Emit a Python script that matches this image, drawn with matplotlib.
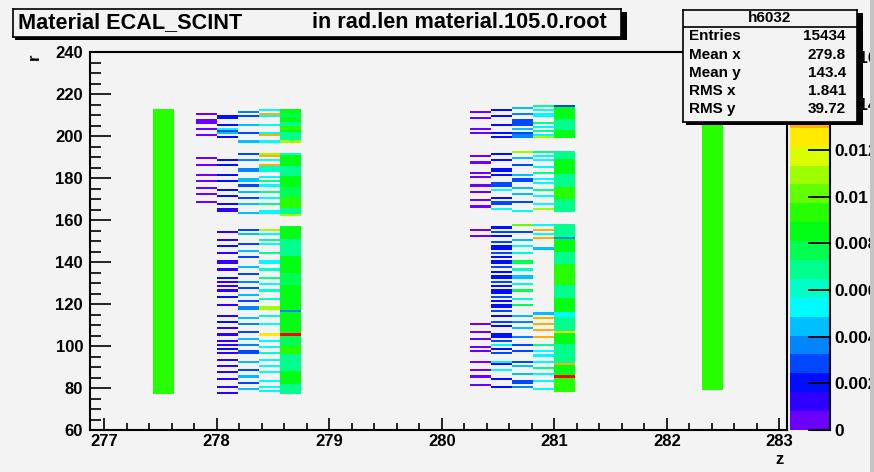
import colorsys
import numpy as np
import matplotlib
matplotlib.use("Agg")
import matplotlib.pyplot as plt
from matplotlib.colors import ListedColormap, BoundaryNorm
from matplotlib.patches import Rectangle
from matplotlib.ticker import MultipleLocator, FuncFormatter

plt.rcParams['font.family'] = ['Liberation Sans', 'DejaVu Sans']
plt.rcParams['font.weight'] = 'bold'

W, H_PX = 874, 472
BG = '#f3f3f3'

# histogram binning (z in bins of 0.1875, r in bins of 1)
z_edges = 276.875 + 0.1875 * np.arange(34)
r_edges = np.arange(60, 241)
z_max_val = 0.0162
n_levels = 20
step = z_max_val / n_levels

# data: columns as (r bin, colour level) stripes or (r_lo, r_hi, level) runs
left_bar = [(77, 212, 11)]
right_bar = [(79, 212, 11)]

ecal1_a = [(210, 0), (207, 0), (206, 0), (203, 0), (200, 0),
           (189, 0), (186, 0), (181, 0), (178, 0), (175, 0), (172, 0), (168, 0)]
ecal1_b = [(209, 2), (208, 2), (205, 2), (203, 6), (202, 3), (201, 5), (199, 2),
           (188, 2), (186, 2), (181, 2), (178, 2), (174, 2), (171, 2), (167, 2), (165, 1), (164, 1),
           (154, 1), (150, 1), (147, 2), (144, 1), (140, 1), (139, 1), (136, 1), (132, 2),
           (130, 1), (128, 1), (126, 1), (123, 2), (119, 1), (114, 1), (111, 2), (108, 1),
           (105, 1), (102, 1), (100, 1), (98, 2), (96, 1), (93, 1), (90, 1), (87, 1),
           (84, 1), (80, 1), (77, 1)]
ecal1_c = [(211, 4), (209, 3), (205, 5), (201, 3), (197, 5),
           (191, 3), (188, 4), (184, 4), (183, 4), (179, 5), (178, 5), (176, 3), (173, 5),
           (170, 3), (167, 5), (163, 5),
           (155, 3), (153, 5), (148, 3), (145, 5), (142, 3), (137, 5), (134, 3), (130, 4),
           (127, 3), (124, 5), (121, 3), (118, 4), (117, 4), (113, 5), (110, 4), (106, 3),
           (103, 5), (100, 4), (97, 3), (96, 3), (92, 5), (88, 3), (85, 5), (82, 3), (79, 5)]
ecal1_d = [(212, 6), (210, 16), (209, 6), (205, 6), (201, 6), (200, 16), (197, 6),
           (191, 13), (190, 16), (188, 6), (186, 16), (185, 7), (184, 7), (183, 7), (180, 6),
           (178, 8), (176, 6), (173, 8), (170, 6), (167, 8), (164, 6), (163, 6),
           (155, 13), (153, 6), (150, 8), (148, 6), (144, 8), (140, 6), (139, 6), (136, 7),
           (132, 8), (129, 6), (126, 7), (122, 7), (118, 13), (117, 13), (114, 7), (110, 6),
           (105, 15), (102, 6), (99, 6), (96, 7), (93, 6), (90, 6), (87, 6), (83, 6),
           (80, 6), (78, 6)]
ecal1_e = [(212, 212, 10), (211, 211, 10), (209, 210, 9), (207, 208, 10), (205, 206, 8),
           (203, 204, 11), (202, 202, 10), (198, 201, 8), (197, 197, 13),
           (191, 191, 7), (186, 190, 10), (181, 185, 8), (176, 180, 10), (171, 175, 9),
           (166, 170, 11), (163, 165, 8), (162, 162, 13),
           (151, 156, 10), (143, 150, 8), (135, 142, 10), (129, 134, 9), (117, 128, 10),
           (116, 116, 4), (106, 115, 10), (105, 105, 19), (100, 104, 9), (96, 99, 11),
           (88, 95, 8), (82, 87, 10), (77, 81, 8)]

ecal2_a = [(211, 0), (208, 0), (203, 0), (201, 0),
           (190, 0), (187, 0), (182, 0), (180, 0), (176, 0), (173, 0), (169, 0), (166, 0),
           (155, 0), (152, 0), (110, 0), (106, 0), (103, 0), (99, 0), (97, 0), (92, 0),
           (88, 0), (85, 0), (81, 0)]
ecal2_b = [(212, 2), (209, 2), (205, 2), (201, 2), (199, 2),
           (191, 2), (188, 2), (184, 2), (183, 2), (181, 2), (177, 3), (176, 3), (174, 6),
           (170, 2), (168, 3), (167, 3), (165, 6),
           (156, 2), (154, 3), (152, 2), (149, 3), (147, 2), (146, 2), (144, 3), (142, 2),
           (140, 2), (139, 2), (137, 3), (135, 2), (133, 2), (132, 2), (130, 3), (128, 2),
           (126, 2), (125, 2), (123, 3), (121, 2), (119, 2), (118, 2), (116, 3), (114, 2),
           (111, 3), (109, 2), (105, 2), (104, 2), (102, 3), (100, 6), (98, 2), (96, 3),
           (92, 6), (91, 2), (88, 6), (84, 2), (80, 2)]
ecal2_c = [(213, 5), (210, 4), (207, 3), (206, 3), (205, 3), (203, 5), (201, 3), (200, 4), (199, 4),
           (192, 13), (189, 5), (186, 3), (181, 5), (179, 3), (178, 3), (175, 5), (172, 5),
           (168, 3), (164, 6),
           (157, 12), (154, 3), (150, 5), (147, 6), (144, 7), (140, 9), (139, 9), (136, 7),
           (133, 5), (132, 5), (129, 7), (126, 9), (122, 7), (119, 9), (114, 5), (111, 4),
           (108, 5), (104, 4), (100, 3), (97, 3), (92, 3), (90, 5), (86, 5), (83, 3),
           (82, 3), (80, 4)]
ecal2_d = [(214, 8), (212, 6), (210, 6), (209, 6), (206, 8), (204, 6), (202, 8), (200, 6), (199, 13),
           (192, 8), (190, 6), (188, 6), (185, 6), (182, 8), (179, 6), (177, 6), (174, 8),
           (171, 6), (167, 6), (165, 13),
           (157, 6), (155, 16), (153, 6), (151, 16), (146, 5),
           (115, 5), (113, 16), (110, 16), (107, 16), (104, 16), (100, 8), (97, 6), (95, 6),
           (92, 6), (89, 8), (86, 6), (83, 6), (79, 6)]
ecal2_e = [(214, 214, 3), (208, 213, 10), (203, 207, 8), (199, 202, 10),
           (189, 192, 8), (182, 188, 10), (176, 181, 8), (170, 175, 11), (164, 169, 8),
           (152, 157, 8), (151, 151, 4), (145, 150, 10), (139, 144, 8), (129, 138, 11),
           (123, 128, 8), (116, 122, 10), (114, 115, 6), (107, 113, 8), (106, 106, 15),
           (101, 105, 10), (92, 100, 8), (91, 91, 16), (86, 90, 10), (85, 85, 19), (78, 84, 11)]

column_z = [277.4375, 277.8125, 278.0, 278.1875, 278.375, 278.5625,
            280.25, 280.4375, 280.625, 280.8125, 281.0, 282.3125]
column_data = [left_bar, ecal1_a, ecal1_b, ecal1_c, ecal1_d, ecal1_e,
               ecal2_a, ecal2_b, ecal2_c, ecal2_d, ecal2_e, right_bar]

stats_labels = ['Entries', 'Mean x', 'Mean y', 'RMS x', 'RMS y']
stats_values = ['15434', '279.8', '143.4', '1.841', '39.72']

# fill the 2D histogram
hist = np.zeros((len(r_edges) - 1, len(z_edges) - 1))
for z_lo, entries in zip(column_z, column_data):
    iz = int(round((z_lo - z_edges[0]) / 0.1875))
    for item in entries:
        if len(item) == 2:
            hist[item[0] - 60, iz] = (item[1] + 0.5) * step
        else:
            hist[item[0] - 60:item[1] - 59, iz] = (item[2] + 0.5) * step

# ROOT-like pretty palette, violet -> red
palette = [colorsys.hsv_to_rgb(max(265 - 14 * i, 0) / 360.0, 1, 1) for i in range(n_levels)]
cmap = ListedColormap(palette)
norm = BoundaryNorm(np.linspace(0, z_max_val, n_levels + 1), n_levels)


def fx(x):
    return x / W


def fy(y):
    return 1 - y / H_PX


fig = plt.figure(figsize=(W / 100, H_PX / 100), dpi=100, facecolor=BG)

ax = fig.add_axes([fx(90), fy(430), fx(786.5) - fx(90), fy(52.3) - fy(430)], facecolor=BG)
mesh = ax.pcolormesh(z_edges, r_edges, np.ma.masked_equal(hist, 0), cmap=cmap, norm=norm,
                     antialiased=False, linewidth=0)
ax.set_xlim(276.875, 283.0625)
ax.set_ylim(60, 240)
ax.set_xticks(range(277, 284))
ax.set_yticks(range(60, 241, 20))
ax.xaxis.set_minor_locator(MultipleLocator(0.2))
ax.yaxis.set_minor_locator(MultipleLocator(5))
ax.tick_params(axis='x', which='major', direction='in', length=8.8, width=1.2, labelsize=12, pad=3)
ax.tick_params(axis='x', which='minor', direction='in', length=5, width=1.2)
ax.tick_params(axis='y', which='major', direction='in', length=15, width=1.2, labelsize=12, pad=5)
ax.tick_params(axis='y', which='minor', direction='in', length=7.8, width=1.2)
for s in ax.spines.values():
    s.set_linewidth(1.5)
fig.text(fx(779), fy(460), 'z', fontsize=12, ha='center', va='center')
fig.text(fx(34), fy(57), 'r', fontsize=12, ha='center', va='center', rotation=90)

# colour scale
cax = fig.add_axes([fx(790), fy(430), fx(830) - fx(790), fy(52.3) - fy(430)])
cb = fig.colorbar(mesh, cax=cax, ticks=np.arange(0, 0.0161, 0.002))
cb.outline.set_visible(False)
cb.minorticks_off()
cax.yaxis.set_major_formatter(FuncFormatter(lambda v, p: f'{v:g}'))
cax.tick_params(direction='in', length=15.5, width=1.3, labelsize=12.5, pad=3)
cax.plot([1, 1], [0, 1], transform=cax.transAxes, color='black', lw=1.5, clip_on=False)
cax.plot([0.55, 1], [0, 0], transform=cax.transAxes, color='black', lw=1.5, clip_on=False)

# title box
fig.add_artist(Rectangle((fx(15), fy(39.5)), fx(624) - fx(12), fy(12) - fy(39.5),
                         transform=fig.transFigure, facecolor='black', edgecolor='none', zorder=8))
tax = fig.add_axes([fx(12.5), fy(37), fx(621) - fx(12.5), fy(9) - fy(37)], facecolor=BG, zorder=9)
tax.set_xticks([])
tax.set_yticks([])
for s in tax.spines.values():
    s.set_linewidth(1.2)
fig.text(fx(18), fy(23), 'Material ECAL_SCINT', fontsize=15.6, ha='left', va='center', zorder=10)
fig.text(fx(312), fy(23), 'in rad.len material.105.0.root', fontsize=15.6, ha='left', va='center', zorder=10)

# stats box
fig.add_artist(Rectangle((fx(686), fy(125)), fx(860) - fx(683), fy(13) - fy(125),
                         transform=fig.transFigure, facecolor='black', edgecolor='none', zorder=8))
sax = fig.add_axes([fx(683), fy(122), fx(857) - fx(683), fy(10) - fy(122)], facecolor=BG, zorder=9)
sax.set_xticks([])
sax.set_yticks([])
for s in sax.spines.values():
    s.set_linewidth(1.2)
sax.set_xlim(683, 857)
sax.set_ylim(122, 10)
sax.plot([683, 857], [26.7, 26.7], color='black', lw=1.2)
sax.text(770, 17.5, 'h6032', fontsize=11, ha='center', va='center')
for i, (lab, val) in enumerate(zip(stats_labels, stats_values)):
    y = 36.5 + 18.2 * i
    sax.text(689, y, lab, fontsize=11, ha='left', va='center')
    sax.text(846, y, val, fontsize=11, ha='right', va='center')

# canvas border
fig.add_artist(Rectangle((fx(870), 0), fx(874) - fx(870), 1, transform=fig.transFigure,
                         facecolor='#c4c4c4', edgecolor='none', zorder=11))

fig.savefig('out.png', dpi=100, facecolor=BG)
